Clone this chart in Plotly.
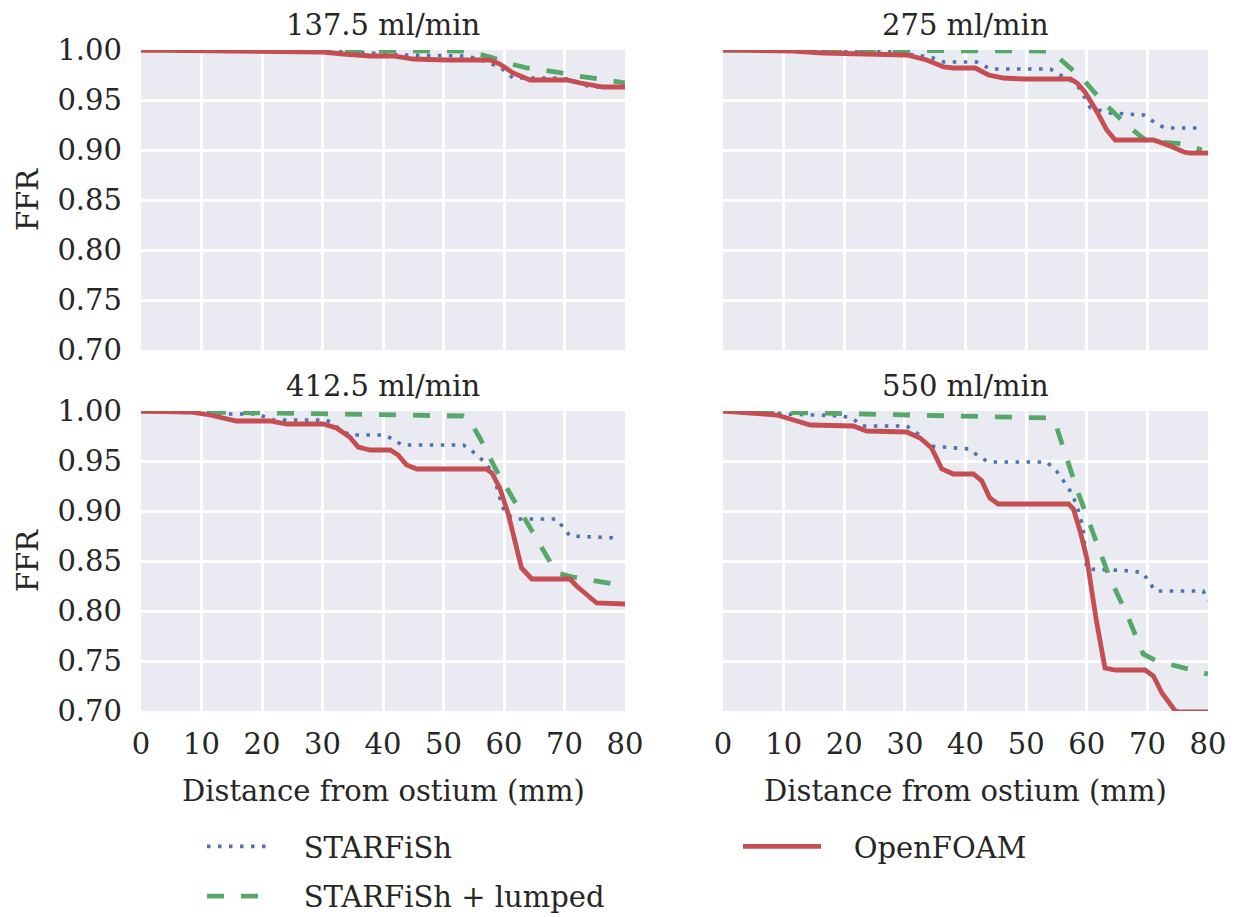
import plotly.graph_objects as go

# Distance along the vessel (mm) and FFR for each inflow rate
starfish_137_x = [0, 10, 20, 30, 35, 37.9, 43.7, 53.4, 55.3, 59.3, 61.5, 68.1, 70.5, 72.6, 74.2, 80]
starfish_137_y = [1.000, 1.000, 0.999, 0.999, 0.998, 0.997, 0.995, 0.994, 0.992, 0.983, 0.972, 0.972, 0.971, 0.967, 0.963, 0.963]
lumped_137_x = [0, 20, 35, 45, 53.3, 54.4, 58.3, 59.9, 63.8, 68.7, 72, 76.9, 80]
lumped_137_y = [1.000, 1.000, 0.999, 0.999, 0.999, 0.998, 0.992, 0.988, 0.982, 0.978, 0.974, 0.970, 0.967]
openfoam_137_x = [0, 10, 20, 30, 33.4, 37.9, 41.7, 45.0, 50.5, 57.7, 59.3, 61.5, 64.3, 70.4, 72.6, 76.4, 80]
openfoam_137_y = [1.000, 0.999, 0.998, 0.998, 0.996, 0.994, 0.994, 0.991, 0.990, 0.990, 0.986, 0.977, 0.970, 0.970, 0.967, 0.963, 0.963]

starfish_275_x = [0, 10, 15.5, 27.6, 34.2, 36.4, 41.9, 44.1, 54.0, 55.6, 57.3, 58.9, 60.6, 63.9, 69.4, 71.3, 72.9, 79]
starfish_275_y = [1.000, 1.000, 0.999, 0.998, 0.993, 0.988, 0.988, 0.981, 0.981, 0.975, 0.970, 0.961, 0.942, 0.937, 0.935, 0.927, 0.922, 0.922]
lumped_275_x = [0, 20, 40, 53.4, 54.5, 57.3, 59.5, 62.8, 67.2, 69.9, 76.0, 79]
lumped_275_y = [1.000, 1.000, 0.999, 0.999, 0.997, 0.982, 0.970, 0.947, 0.922, 0.909, 0.906, 0.900]
openfoam_275_x = [0, 8, 11.6, 16.5, 24.8, 30.3, 33.6, 36.4, 38.0, 41.6, 43.8, 46.3, 49.5, 57.3, 58.4, 59.7,
                  61.7, 63.3, 64.7, 71.0, 73.8, 76.0, 77.1, 80]
openfoam_275_y = [1.000, 1.000, 0.999, 0.997, 0.996, 0.995, 0.990, 0.983, 0.982, 0.982, 0.975, 0.972, 0.971, 0.971, 0.967, 0.958,
                  0.938, 0.920, 0.910, 0.910, 0.904, 0.898, 0.897, 0.897]

starfish_412_x = [0, 8.5, 14.7, 19.1, 21.9, 30.7, 32.6, 34.5, 40.0, 41.7, 43.1, 53.3, 54.7, 56.6, 58.2, 59.3,
                  60.2, 62.1, 68.7, 70.9, 79]
starfish_412_y = [1.000, 0.999, 0.997, 0.997, 0.991, 0.991, 0.983, 0.976, 0.976, 0.972, 0.966, 0.966, 0.960, 0.950, 0.938, 0.913,
                  0.897, 0.892, 0.892, 0.875, 0.873]
lumped_412_x = [0, 11.4, 30, 53.3, 54.1, 56.0, 58.8, 64.3, 68.7, 71.4, 80]
lumped_412_y = [1.000, 0.999, 0.998, 0.995, 0.993, 0.973, 0.940, 0.883, 0.838, 0.834, 0.825]
openfoam_412_x = [0, 8.1, 11.4, 15.8, 21.3, 24.1, 30.1, 32.3, 34.5, 35.9, 37.9, 41.2, 42.5, 43.9, 45.6, 57.1,
                  58.0, 59.3, 60.7, 62.9, 64.6, 70.9, 72.0, 73.4, 75.3, 80]
openfoam_412_y = [1.000, 0.999, 0.996, 0.990, 0.990, 0.987, 0.987, 0.983, 0.974, 0.964, 0.961, 0.961, 0.956, 0.946, 0.942, 0.942,
                  0.938, 0.923, 0.897, 0.843, 0.832, 0.832, 0.825, 0.818, 0.808, 0.807]

starfish_550_x = [0, 8, 9.9, 19.8, 21.5, 22.9, 30.3, 32.2, 33.9, 40.7, 42.1, 43.8, 53.4, 55.0, 57.0, 58.3,
                  59.4, 60.0, 67.7, 69.3, 71.3, 79.2, 80]
starfish_550_y = [1.000, 0.999, 0.997, 0.995, 0.992, 0.985, 0.985, 0.977, 0.965, 0.962, 0.955, 0.949, 0.949, 0.940, 0.923, 0.907,
                  0.883, 0.842, 0.840, 0.838, 0.820, 0.820, 0.810]
lumped_550_x = [0, 19.8, 40, 53.9, 54.8, 56.7, 58.3, 61.1, 63.8, 66.6, 69.3, 71.5, 80]
lumped_550_y = [1.000, 0.997, 0.995, 0.993, 0.988, 0.953, 0.923, 0.877, 0.833, 0.797, 0.757, 0.750, 0.737]
openfoam_550_x = [0, 8.9, 11.1, 14.4, 21.5, 23.7, 30.3, 32.5, 34.4, 36.1, 38.0, 41.3, 42.7, 44.0, 45.4, 57.0,
                  57.8, 58.9, 60.0, 61.6, 63.0, 64.7, 69.6, 71.0, 72.4, 74.6, 75.5, 80]
openfoam_550_y = [1.000, 0.996, 0.992, 0.986, 0.985, 0.980, 0.979, 0.973, 0.963, 0.942, 0.937, 0.937, 0.930, 0.913, 0.907, 0.907,
                  0.902, 0.880, 0.853, 0.790, 0.743, 0.741, 0.741, 0.735, 0.718, 0.700, 0.699, 0.699]

panel_titles = ["137.5 ml/min", "275 ml/min", "412.5 ml/min", "550 ml/min"]
series_names = ["STARFiSh", "STARFiSh + lumped", "OpenFOAM"]
x_ticks = [0, 10, 20, 30, 40, 50, 60, 70, 80]
y_ticks = [0.70, 0.75, 0.80, 0.85, 0.90, 0.95, 1.00]

panels = [
    [(starfish_137_x, starfish_137_y), (lumped_137_x, lumped_137_y), (openfoam_137_x, openfoam_137_y)],
    [(starfish_275_x, starfish_275_y), (lumped_275_x, lumped_275_y), (openfoam_275_x, openfoam_275_y)],
    [(starfish_412_x, starfish_412_y), (lumped_412_x, lumped_412_y), (openfoam_412_x, openfoam_412_y)],
    [(starfish_550_x, starfish_550_y), (lumped_550_x, lumped_550_y), (openfoam_550_x, openfoam_550_y)],
]

W, H = 1236, 917
FONT = "DejaVu Serif"
FS = 29
TXT = "#262626"
styles = [
    dict(color="#4C72B0", width=3.6, dash="3.5px,7.5px"),
    dict(color="#55A868", width=4.8, dash="17px,17px"),
    dict(color="#C44E52", width=4.8, dash="solid"),
]
legend_of = ["legend", "legend", "legend2"]
# a little room between each legend sample and its label
pad = "\u00a0" * 3

# panel boxes in pixels: (left, right, top, bottom)
boxes = [(141, 625, 50, 350), (723, 1208, 50, 350), (141, 625, 411, 711), (723, 1208, 411, 711)]

fig = go.Figure()
for p, series in enumerate(panels):
    ax = "" if p == 0 else str(p + 1)
    for s, (xs, ys) in enumerate(series):
        fig.add_trace(go.Scatter(
            x=xs, y=ys, mode="lines", name=pad + series_names[s],
            line=styles[s], xaxis="x" + ax, yaxis="y" + ax,
            showlegend=(p == 0), legend=legend_of[s], legendgroup=series_names[s],
        ))

layout = dict(
    width=W, height=H, margin=dict(l=0, r=0, t=0, b=0, autoexpand=False),
    paper_bgcolor="white", plot_bgcolor="#EAEAF2",
    font=dict(family=FONT, size=FS, color=TXT),
    annotations=[],
)
for p, (l, r, t, b) in enumerate(boxes):
    ax = "" if p == 0 else str(p + 1)
    left_col = p in (0, 2)
    bottom_row = p in (2, 3)
    layout["xaxis" + ax] = dict(
        domain=[l / W, r / W], range=[0, 80], anchor="y" + ax,
        tickvals=x_ticks, showticklabels=bottom_row, ticks="",
        ticklabelstandoff=13, gridcolor="white", gridwidth=2.5,
        showline=False, zeroline=False, automargin=False, tickfont=dict(size=FS),
    )
    layout["yaxis" + ax] = dict(
        domain=[1 - b / H, 1 - t / H], range=[0.70, 1.00], anchor="x" + ax,
        tickvals=y_ticks, tickformat=".2f", showticklabels=left_col, ticks="",
        ticklabelstandoff=18, gridcolor="white", gridwidth=2.5,
        showline=False, zeroline=False, automargin=False, tickfont=dict(size=FS),
    )
    layout["annotations"].append(dict(
        text=panel_titles[p], x=(l + r) / 2 / W, y=1 - (t - 25) / H,
        xref="paper", yref="paper", xanchor="center", yanchor="middle",
        showarrow=False, font=dict(size=FS),
    ))
    if left_col:
        layout["annotations"].append(dict(
            text="FFR", x=28 / W, y=1 - (t + b) / 2 / H, textangle=-90,
            xref="paper", yref="paper", xanchor="center", yanchor="middle",
            showarrow=False, font=dict(size=FS),
        ))
    if bottom_row:
        layout["annotations"].append(dict(
            text="Distance from ostium (mm)", x=(l + r) / 2 / W, y=1 - 791 / H,
            xref="paper", yref="paper", xanchor="center", yanchor="middle",
            showarrow=False, font=dict(size=FS),
        ))

layout["legend"] = dict(
    x=202 / W, y=1 - 821 / H, xanchor="left", yanchor="top",
    orientation="v", tracegroupgap=9, bgcolor="rgba(0,0,0,0)",
    font=dict(family=FONT, size=FS, color=TXT), itemwidth=64,
)
layout["legend2"] = dict(
    x=738 / W, y=1 - 821 / H, xanchor="left", yanchor="top",
    orientation="v", bgcolor="rgba(0,0,0,0)",
    font=dict(family=FONT, size=FS, color=TXT), itemwidth=78,
)

fig.update_layout(**layout)
fig.write_html("out.html")
